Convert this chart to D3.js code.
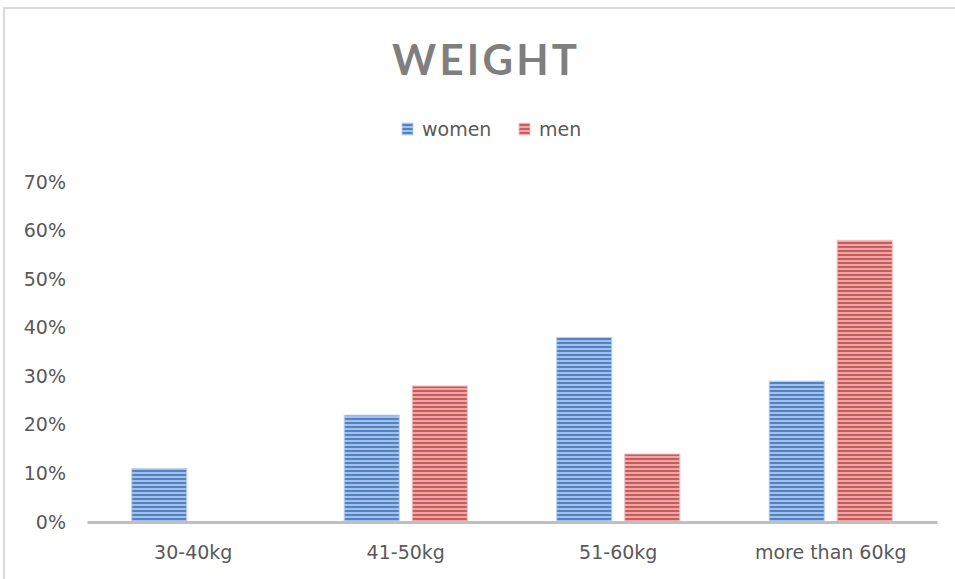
<!DOCTYPE html>
<html>
<head>
<meta charset="utf-8">
<script src="https://cdn.jsdelivr.net/npm/d3@7"></script>
<style>
  html, body { margin: 0; padding: 0; background: #fff; }
  svg { display: block; }
</style>
</head>
<body>
<svg id="chart" width="955" height="579"></svg>
<script>
// Weight distribution by sex
const categories = ["30-40kg", "41-50kg", "51-60kg", "more than 60kg"];
const seriesNames = ["women", "men"];
const women = [0.11, 0.22, 0.38, 0.29];
const men = [null, 0.28, 0.14, 0.58];
const yTicks = [0, 0.1, 0.2, 0.3, 0.4, 0.5, 0.6, 0.7];

const palette = {
  women: { dark: "#5282c6", light: "#a3c0e8", edge: "#bcd1ee" },
  men:   { dark: "#cc5a5a", light: "#eaa9a9", edge: "#efc0c0" }
};

const svg = d3.select("#chart");
const W = 955, H = 579;
const margin = { top: 182, right: 18, bottom: 57, left: 87 };
const plotW = W - margin.left - margin.right;
const plotH = H - margin.top - margin.bottom;

// Striped fills for the bars
const defs = svg.append("defs");
seriesNames.forEach(name => {
  const p = defs.append("pattern")
    .attr("id", "stripe-" + name)
    .attr("patternUnits", "userSpaceOnUse")
    .attr("width", 8).attr("height", 4);
  p.append("rect").attr("width", 8).attr("height", 4).attr("fill", palette[name].light);
  p.append("rect").attr("y", 0).attr("width", 8).attr("height", 2).attr("fill", palette[name].dark);
});

// Chart frame
svg.append("rect")
  .attr("x", 4).attr("y", 8)
  .attr("width", W + 20).attr("height", H + 20)
  .attr("fill", "none").attr("stroke", "#d9d9d9").attr("stroke-width", 2);

// Title
svg.append("text")
  .attr("x", 392).attr("y", 75)
  .attr("textLength", 185).attr("lengthAdjust", "spacing")
  .attr("font-family", "Lato, sans-serif")
  .attr("font-weight", "bold").attr("font-size", 42)
  .attr("fill", "#7f7f7f")
  .text("WEIGHT");

// Legend
const legendItems = [
  { name: "women", x: 402 },
  { name: "men", x: 519 }
];
const legend = svg.append("g").attr("class", "legend");
legendItems.forEach(d => {
  legend.append("rect")
    .attr("x", d.x).attr("y", 123).attr("width", 11).attr("height", 12)
    .attr("fill", `url(#stripe-${d.name})`)
    .attr("stroke", palette[d.name].edge).attr("stroke-width", 0.8);
  legend.append("text")
    .attr("x", d.x + 20).attr("y", 136)
    .attr("font-family", "'DejaVu Sans', sans-serif")
    .attr("font-size", 19).attr("fill", "#595959")
    .text(d.name);
});

const g = svg.append("g").attr("transform", `translate(${margin.left},${margin.top})`);

const x = d3.scaleBand().domain(categories).range([0, plotW]).paddingInner(0).paddingOuter(0);
const x1 = d3.scaleBand().domain(seriesNames).range([0, x.bandwidth()]).paddingInner(0.19).paddingOuter(0.657);
const y = d3.scaleLinear().domain([0, 0.7]).range([plotH, 0]);

// Y axis labels (no axis line, no gridlines)
const yAxis = d3.axisLeft(y).tickValues(yTicks).tickFormat(d3.format(".0%")).tickSize(0).tickPadding(21);
const yG = g.append("g").call(yAxis);
yG.select(".domain").remove();
yG.selectAll("text")
  .attr("font-family", "'DejaVu Sans', sans-serif")
  .attr("font-size", 19).attr("fill", "#595959");

// Bars
const rows = categories.map((c, i) => ({ cat: c, values: { women: women[i], men: men[i] } }));
const groups = g.selectAll("g.cat").data(rows).join("g")
  .attr("class", "cat")
  .attr("transform", d => `translate(${x(d.cat)},0)`);
groups.selectAll("rect")
  .data(d => seriesNames.filter(s => d.values[s] != null).map(s => ({ s, v: d.values[s] })))
  .join("rect")
  .attr("x", d => x1(d.s))
  .attr("width", x1.bandwidth())
  .attr("y", d => y(d.v))
  .attr("height", d => y(0) - y(d.v))
  .attr("fill", d => `url(#stripe-${d.s})`)
  .attr("stroke", d => palette[d.s].edge)
  .attr("stroke-width", 1);

// X axis
const xAxis = d3.axisBottom(x).tickSize(0).tickPadding(24);
const xG = g.append("g").attr("transform", `translate(0,${plotH})`).call(xAxis);
xG.select(".domain").attr("stroke", "#bfbfbf").attr("stroke-width", 3);
xG.selectAll("text")
  .attr("font-family", "'DejaVu Sans', sans-serif")
  .attr("font-size", 19).attr("fill", "#595959");
</script>
</body>
</html>
